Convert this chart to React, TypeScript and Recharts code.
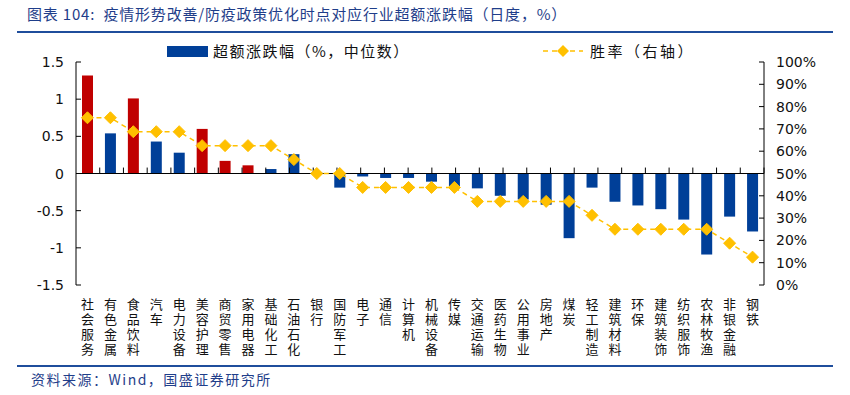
import React from 'react';
import { ComposedChart, Bar, Line, XAxis, YAxis, Cell, ReferenceLine } from 'recharts';

const industries = [
  '社会服务', '有色金属', '食品饮料', '汽车', '电力设备', '美容护理', '商贸零售', '家用电器',
  '基础化工', '石油石化', '银行', '国防军工', '电子', '通信', '计算机', '机械设备', '传媒',
  '交通运输', '医药生物', '公用事业', '房地产', '煤炭', '轻工制造', '建筑材料', '环保',
  '建筑装饰', '纺织服饰', '农林牧渔', '非银金融', '钢铁',
];
const excessReturn = [
  1.32, 0.54, 1.01, 0.43, 0.28, 0.6, 0.17, 0.11, 0.06, 0.26, 0.01, -0.19, -0.04, -0.06, -0.06,
  -0.11, -0.17, -0.2, -0.3, -0.35, -0.42, -0.87, -0.19, -0.38, -0.43, -0.48, -0.62, -1.09, -0.58, -0.78,
];
const winRate = [
  75, 75, 68.75, 68.75, 68.75, 62.5, 62.5, 62.5, 62.5, 56.25, 50, 50, 43.75, 43.75, 43.75, 43.75,
  43.75, 37.5, 37.5, 37.5, 37.5, 37.5, 31.25, 25, 25, 25, 25, 25, 18.75, 12.5,
];
const highlighted = ['社会服务', '食品饮料', '美容护理', '商贸零售', '家用电器'];
const leftTicks = [-1.5, -1, -0.5, 0, 0.5, 1, 1.5];
const rightTicks = [0, 10, 20, 30, 40, 50, 60, 70, 80, 90, 100];
const boundaries = industries.slice(1).map((_, i) => i + 1);

const title = '图表 104:  疫情形势改善/防疫政策优化时点对应行业超额涨跌幅（日度，%）';
const barLegend = '超额涨跌幅（%，中位数）';
const lineLegend = '胜率（右轴）';
const source = '资料来源：Wind，国盛证券研究所';

const data = industries.map((name, i) => ({ name, excess: excessReturn[i], win: winRate[i] }));

const BLUE = '#003F98';
const RED = '#C00000';
const GOLD = '#FFC000';
const NAVY = '#1F3E8A';
const CJK = '"Noto Sans CJK SC", sans-serif';
const NUM = '"DejaVu Sans", sans-serif';

const LeftTick = (props: any) => {
  const { x, y, payload } = props;
  return (
    <g>
      <line x1={x} x2={x + 5} y1={y} y2={y} stroke="#000" strokeWidth={1} />
      <text x={x - 12} y={y} dy={5} textAnchor="end" fontFamily={NUM} fontSize={14} fill="#111">
        {payload.value}
      </text>
    </g>
  );
};

const RightTick = (props: any) => {
  const { x, y, payload } = props;
  return (
    <g>
      <line x1={x - 5} x2={x} y1={y} y2={y} stroke="#000" strokeWidth={1} />
      <text x={x + 12} y={y} dy={5} textAnchor="start" fontFamily={NUM} fontSize={14} fill="#111">
        {payload.value + '%'}
      </text>
    </g>
  );
};

const CatTick = (props: any) => {
  const { x, y, payload } = props;
  return (
    <text
      x={x}
      y={y + 13}
      textAnchor="start"
      fontFamily={CJK}
      fontSize={13}
      fill="#111"
      style={{ writingMode: 'vertical-rl', letterSpacing: '1.8px' }}
    >
      {payload.value}
    </text>
  );
};

const Diamond = (props: any) => {
  const { cx, cy, index } = props;
  if (cx == null || cy == null) return <g key={index} />;
  const r = 6;
  return (
    <polygon
      key={index}
      points={`${cx},${cy - r} ${cx + r},${cy} ${cx},${cy + r} ${cx - r},${cy}`}
      fill={GOLD}
      stroke={GOLD}
    />
  );
};

export default function App() {
  return (
    <div style={{ position: 'absolute', left: 0, top: 0, width: 850, height: 395, background: '#fff', overflow: 'hidden' }}>
      <div
        style={{
          position: 'absolute', left: 27, top: 4, fontFamily: CJK, fontSize: 15, color: NAVY,
          whiteSpace: 'pre', lineHeight: '20px', letterSpacing: 0.8,
        }}
      >
        {title}
      </div>
      <div style={{ position: 'absolute', left: 17, top: 31, width: 816, height: 2, background: '#1F4E9C' }} />

      <div style={{ position: 'absolute', left: 167, top: 46, width: 41, height: 11, background: BLUE }} />
      <div style={{ position: 'absolute', left: 213, top: 41, fontFamily: CJK, fontSize: 15, color: '#111', lineHeight: '20px', whiteSpace: 'pre', letterSpacing: 1.5 }}>
        {barLegend}
      </div>
      <svg style={{ position: 'absolute', left: 540, top: 43 }} width={46} height={16}>
        <line x1={3} x2={43} y1={8} y2={8} stroke={GOLD} strokeWidth={1.5} strokeDasharray="5 4" />
        <polygon points="23,2 29,8 23,14 17,8" fill={GOLD} />
      </svg>
      <div style={{ position: 'absolute', left: 590, top: 41, fontFamily: CJK, fontSize: 15, color: '#111', lineHeight: '20px', whiteSpace: 'pre', letterSpacing: 2.5 }}>
        {lineLegend}
      </div>

      <div style={{ position: 'absolute', left: 0, top: 0 }}>
        <ComposedChart width={850} height={395} data={data} margin={{ top: 62, right: 0, bottom: 30, left: 0 }}>
          <XAxis
            xAxisId="cat"
            dataKey="name"
            type="category"
            interval={0}
            axisLine={false}
            tickLine={false}
            tickSize={0}
            tickMargin={0}
            height={80}
            tick={<CatTick />}
          />
          <XAxis xAxisId="num" type="number" domain={[0, industries.length]} hide />
          <YAxis
            yAxisId="left"
            orientation="left"
            width={76}
            domain={[-1.5, 1.5]}
            ticks={leftTicks}
            interval={0}
            tickLine={false}
            tickSize={0}
            tickMargin={0}
            axisLine={{ stroke: '#000', strokeWidth: 1 }}
            tick={<LeftTick />}
          />
          <YAxis
            yAxisId="right"
            orientation="right"
            width={86}
            domain={[0, 100]}
            ticks={rightTicks}
            interval={0}
            tickLine={false}
            tickSize={0}
            tickMargin={0}
            axisLine={{ stroke: '#000', strokeWidth: 1 }}
            tick={<RightTick />}
          />
          <Bar xAxisId="cat" yAxisId="left" dataKey="excess" barSize={11} isAnimationActive={false}>
            {data.map((d, i) => (
              <Cell key={i} fill={highlighted.includes(d.name) ? RED : BLUE} />
            ))}
          </Bar>
          <ReferenceLine xAxisId="cat" yAxisId="left" y={0} stroke="#000" strokeWidth={1} />
          {boundaries.map((b) => (
            <ReferenceLine
              key={b}
              xAxisId="num"
              yAxisId="left"
              segment={[{ x: b, y: 0 }, { x: b, y: 0.08 }]}
              stroke="#000"
              strokeWidth={1}
            />
          ))}
          <Line
            xAxisId="cat"
            yAxisId="right"
            dataKey="win"
            stroke={GOLD}
            strokeWidth={1.5}
            strokeDasharray="5 4"
            dot={<Diamond />}
            activeDot={false}
            isAnimationActive={false}
          />
        </ComposedChart>
      </div>

      <div style={{ position: 'absolute', left: 17, top: 365, width: 816, height: 2, background: '#1F4E9C' }} />
      <div style={{ position: 'absolute', left: 31, top: 370, fontFamily: CJK, fontSize: 14, color: NAVY, lineHeight: '18px', whiteSpace: 'pre', letterSpacing: 1.5 }}>
        {source}
      </div>
    </div>
  );
}
